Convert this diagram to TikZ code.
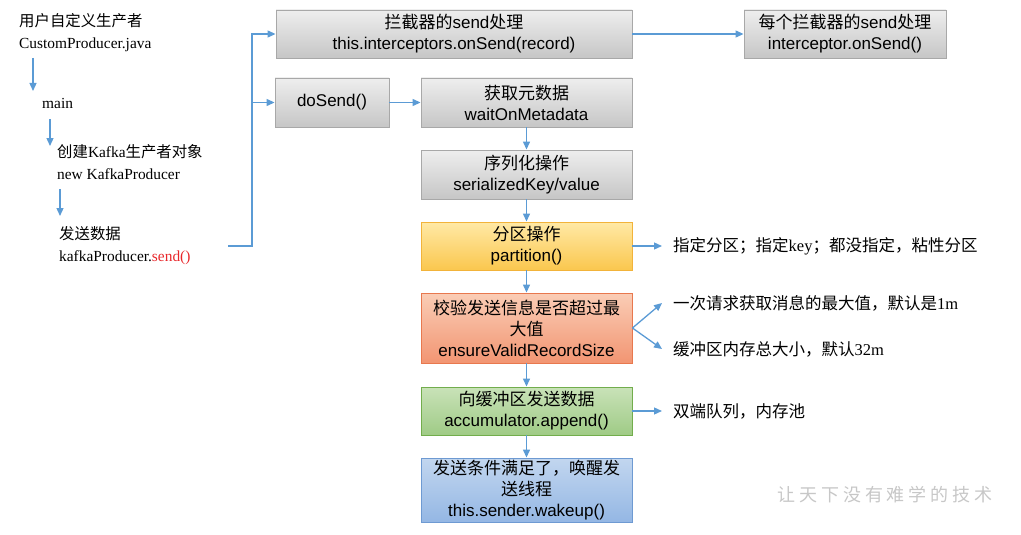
\documentclass[tikz,border=0pt]{standalone}
\usepackage{fontspec}
\setmainfont{Liberation Sans}
\newfontfamily\serifrm{Liberation Serif}
\newfontfamily\cjkfont{Noto Sans CJK SC}
\newfontfamily\wmfont[LetterSpace=22]{Noto Sans CJK SC}
\usetikzlibrary{arrows.meta,calc}
\newcommand\zh[1]{{\cjkfont #1}}
\definecolor{arrowblue}{HTML}{5B9BD5}
\definecolor{graytop}{HTML}{EEEEEE}
\definecolor{graybot}{HTML}{C6C6C6}
\definecolor{grayedge}{HTML}{A8A8A8}
\definecolor{yeltop}{HTML}{FFE9A6}
\definecolor{yelbot}{HTML}{FAC74E}
\definecolor{yeledge}{HTML}{F2B33A}
\definecolor{orgtop}{HTML}{FACDB6}
\definecolor{orgbot}{HTML}{F29572}
\definecolor{orgedge}{HTML}{E8784E}
\definecolor{grntop}{HTML}{C9E2B8}
\definecolor{grnbot}{HTML}{9FCB86}
\definecolor{grnedge}{HTML}{72AD4C}
\definecolor{blutop}{HTML}{C2D6EF}
\definecolor{blubot}{HTML}{94B7E4}
\definecolor{bluedge}{HTML}{6E9AD2}
\definecolor{sendred}{HTML}{E8262A}
\begin{document}
\begin{tikzpicture}[x=1pt,y=-1pt,
  bx/.style={rectangle, inner sep=0pt, align=center, line width=0.9pt,
    font=\fontsize{17}{21}\selectfont},
  graybx/.style={bx, draw=grayedge, top color=graytop, bottom color=graybot},
  yelbx/.style={bx, draw=yeledge, top color=yeltop, bottom color=yelbot},
  orgbx/.style={bx, draw=orgedge, top color=orgtop, bottom color=orgbot},
  grnbx/.style={bx, draw=grnedge, top color=grntop, bottom color=grnbot},
  blubx/.style={bx, draw=bluedge, top color=blutop, bottom color=blubot},
  lefttxt/.style={anchor=west, inner sep=0pt, align=left,
    font=\serifrm\fontsize{15.4}{22}\selectfont},
  righttxt/.style={anchor=west, inner ysep=0pt, inner xsep=11pt, align=left,
    font=\serifrm\fontsize{16.5}{20}\selectfont},
  arr/.style={draw=arrowblue, line width=1.3pt,
    -{Triangle[length=8pt,width=7pt]}, color=arrowblue},
  ln/.style={draw=arrowblue, line width=1.3pt}
]
\useasboundingbox (0,0) rectangle (1021,535);

% left column texts
\node[lefttxt] (user) at (19,33) {\zh{用户自定义生产者}\\CustomProducer.java};
\node[lefttxt] (main) at (42,103) {main};
\node[lefttxt] (create) at (57,162) {\zh{创建}Kafka\zh{生产者对象}\\new KafkaProducer};
\node[lefttxt] (sendtxt) at (59,246) {\zh{发送数据}\\kafkaProducer.\textcolor{sendred}{send()}};

\coordinate (a1s) at (33,58);  \coordinate (a1e) at (33,91);
\coordinate (a2s) at (50,119); \coordinate (a2e) at (50,146);
\coordinate (a3s) at (60,189); \coordinate (a3e) at (60,216);
\draw[arr] (a1s) -- (a1e);
\draw[arr] (a2s) -- (a2e);
\draw[arr] (a3s) -- (a3e);

% boxes
\node[graybx, minimum width=356pt, minimum height=48pt] (icpt) at (454,34)
  {\zh{拦截器的}send\zh{处理}\\this.interceptors.onSend(record)};
\node[graybx, minimum width=202pt, minimum height=48pt] (each) at (845,34)
  {\zh{每个拦截器的}send\zh{处理}\\interceptor.onSend()};
\node[graybx, minimum width=114pt, minimum height=49pt] (dosend) at (332,102.5)
  {doSend()};
\node[graybx, minimum width=211pt, minimum height=49pt] (meta) at (526.5,102.5)
  {\zh{获取元数据}\\waitOnMetadata};
\node[graybx, minimum width=211pt, minimum height=49pt] (ser) at (526.5,174.5)
  {\zh{序列化操作}\\serializedKey/value};
\node[yelbx, minimum width=211pt, minimum height=48pt] (part) at (526.5,246)
  {\zh{分区操作}\\partition()};
\node[orgbx, minimum width=211pt, minimum height=70pt] (valid) at (526.5,328)
  {\zh{校验发送信息是否超过最}\\\zh{大值}\\ensureValidRecordSize};
\node[grnbx, minimum width=211pt, minimum height=48pt] (acc) at (526.5,411)
  {\zh{向缓冲区发送数据}\\accumulator.append()};
\node[blubx, minimum width=211pt, minimum height=64pt] (wake) at (526.5,490)
  {\zh{发送条件满足了，唤醒发}\\\zh{送线程}\\this.sender.wakeup()};

% right labels
\node[righttxt] (l1) at (662,246) {\zh{指定分区；指定}key\zh{；都没指定，粘性分区}};
\node[righttxt] (l2) at (662,303) {\zh{一次请求获取消息的最大值，默认是}1m};
\node[righttxt] (l3) at (662,349) {\zh{缓冲区内存总大小，默认}32m};
\node[righttxt] (l4) at (662,411) {\zh{双端队列，内存池}};

% watermark
\node[inner sep=0pt, text=black!22, font=\wmfont\fontsize{18}{20}\selectfont] (wm) at (885,495)
  {让天下没有难学的技术};

% connectors
\coordinate (s0) at (228,246);
\coordinate (jx) at (252,102.5);
\draw[arr] (s0) -- (s0 -| jx) |- (icpt.west);
\draw[arr] (jx) -- (dosend.west);
\draw[arr] (icpt.east) -- (each.west);
\draw[arr] (dosend.east) -- (meta.west);
\draw[arr] (meta.south) -- (ser.north);
\draw[arr] (ser.south) -- (part.north);
\draw[arr] (part.south) -- (valid.north);
\draw[arr] (valid.south) -- (acc.north);
\draw[arr] (acc.south) -- (wake.north);
\draw[arr] (part.east) -- (l1.west);
\draw[arr] (valid.east) -- (l2.west);
\draw[arr] (valid.east) -- (l3.west);
\draw[arr] (acc.east) -- (l4.west);
\end{tikzpicture}
\end{document}
